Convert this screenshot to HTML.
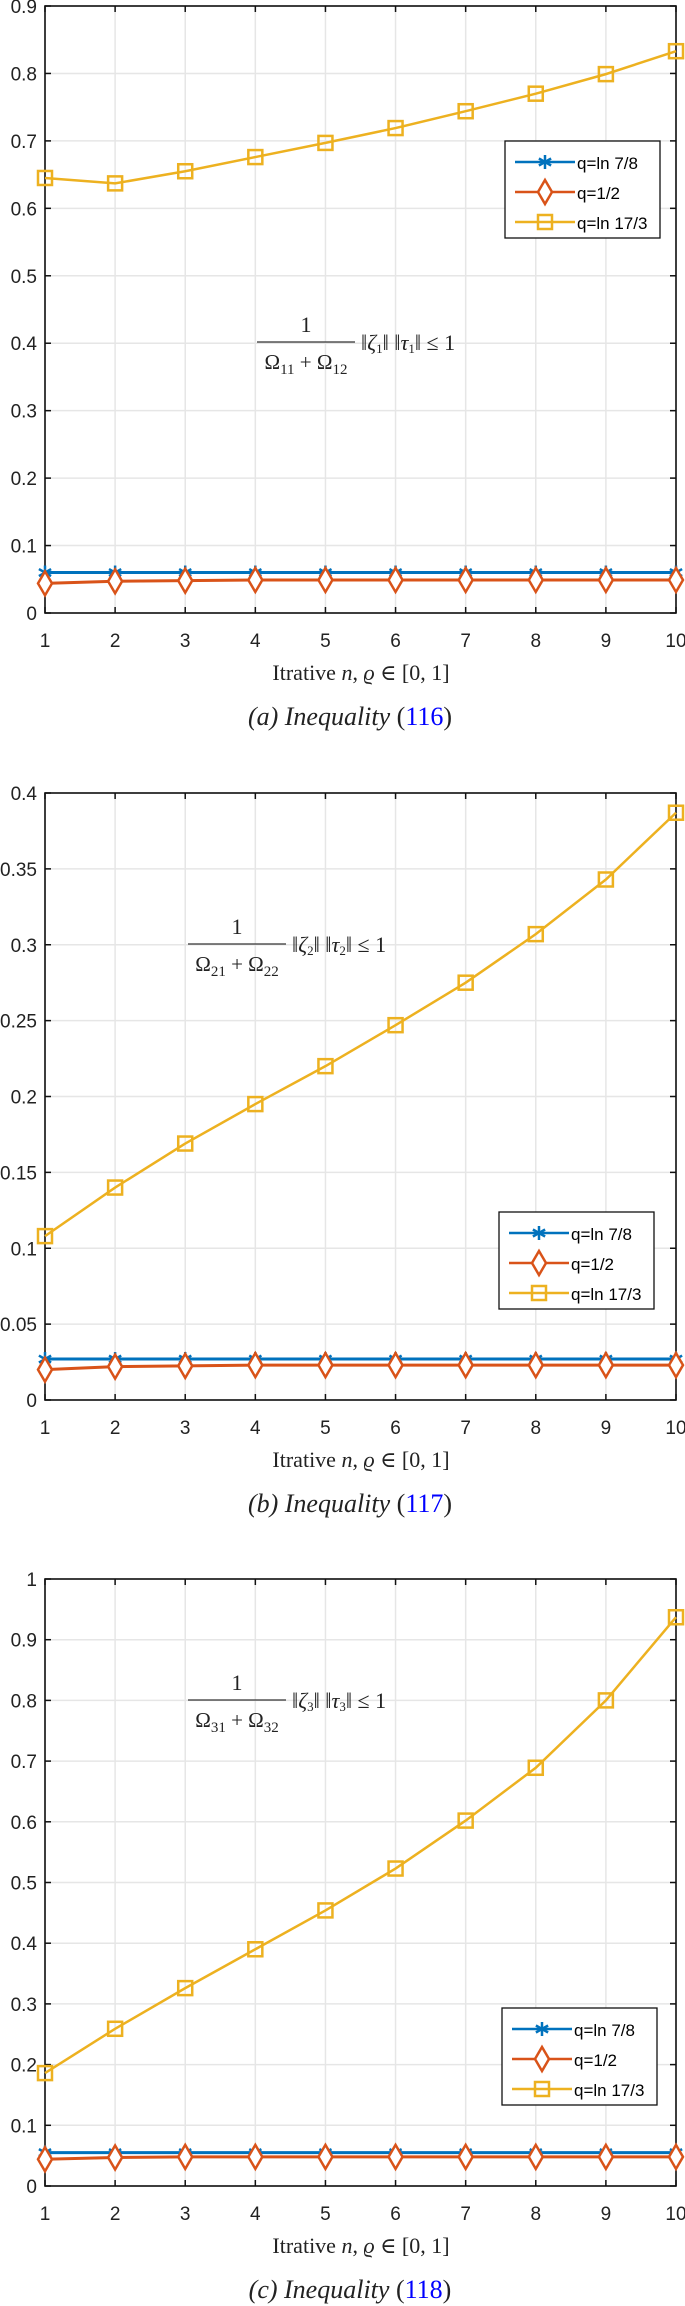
<!DOCTYPE html>
<html><head><meta charset="utf-8">
<style>
body{margin:0;background:#fff;width:685px;height:2306px;overflow:hidden}
svg{display:block}
.tick{font-family:"Liberation Sans",sans-serif;font-size:19px;fill:#222}
.math{font-family:"Liberation Serif","DejaVu Serif",serif;fill:#222}
.leg{font-family:"Liberation Sans",sans-serif;font-size:17px;fill:#000}
</style></head>
<body>
<svg id="fig" width="685" height="2306" xmlns="http://www.w3.org/2000/svg"></svg>
<script>
const categories = [1,2,3,4,5,6,7,8,9,10];
const seriesNames = ["q=ln 7/8","q=1/2","q=ln 17/3"];
// Panel (a)
const aBlue = [0.060,0.060,0.060,0.060,0.060,0.060,0.060,0.060,0.060,0.060];
const aOrange = [0.044,0.047,0.048,0.049,0.049,0.049,0.049,0.049,0.049,0.049];
const aYellow = [0.645,0.637,0.655,0.676,0.697,0.719,0.744,0.770,0.799,0.833];
const aTicks = ["0","0.1","0.2","0.3","0.4","0.5","0.6","0.7","0.8","0.9"];
// Panel (b)
const bBlue = [0.027,0.027,0.027,0.027,0.027,0.027,0.027,0.027,0.027,0.027];
const bOrange = [0.020,0.022,0.0225,0.023,0.023,0.023,0.023,0.023,0.023,0.023];
const bYellow = [0.108,0.140,0.169,0.195,0.220,0.247,0.275,0.307,0.343,0.387];
const bTicks = ["0","0.05","0.1","0.15","0.2","0.25","0.3","0.35","0.4"];
// Panel (c)
const cBlue = [0.055,0.055,0.055,0.055,0.055,0.055,0.055,0.055,0.055,0.055];
const cOrange = [0.044,0.047,0.048,0.048,0.048,0.048,0.048,0.048,0.048,0.048];
const cYellow = [0.186,0.259,0.326,0.390,0.454,0.523,0.602,0.689,0.800,0.937];
const cTicks = ["0","0.1","0.2","0.3","0.4","0.5","0.6","0.7","0.8","0.9","1"];

const NS="http://www.w3.org/2000/svg";
const fig=document.getElementById('fig');
const COLORS=["#0072BD","#D95319","#EDB120"];
function mk(tag,attrs,parent){const e=document.createElementNS(NS,tag);for(const k in attrs)e.setAttribute(k,attrs[k]);(parent||fig).appendChild(e);return e;}

function marker(g,kind,x,y,c){
  if(kind===0){
    const s=7;
    [[0,-s,0,s],[-s*0.87,-s*0.5,s*0.87,s*0.5],[-s*0.87,s*0.5,s*0.87,-s*0.5]].forEach(p=>{
      const l=mk('line',{x1:x+p[0],y1:y+p[1],x2:x+p[2],y2:y+p[3],stroke:c,'stroke-width':2.5},g);
      
    });
  }else if(kind===1){
    const p=mk('polygon',{points:`${x},${y-12} ${x+7},${y} ${x},${y+12} ${x-7},${y}`,fill:'#fff',stroke:c,'stroke-width':2.5},g);
    
  }else{
    const r=mk('rect',{x:x-7,y:y-7,width:14,height:14,fill:'none',stroke:c,'stroke-width':2.5},g);
    
  }
}

function panel(opt){
  const L=45,R=676,T=opt.top,B=opt.top+607;
  const ymax=opt.ymax;
  const xs=v=>L+(v-1)*(R-L)/9;
  const ys=v=>B-v/ymax*(B-T);
  const g=mk('g',{});
  
  categories.forEach(c=>{const l=mk('line',{x1:xs(c),y1:T,x2:xs(c),y2:B,stroke:'#e6e6e6','stroke-width':1.5},g);
    });
  opt.ticks.forEach(t=>{const v=parseFloat(t);const l=mk('line',{x1:L,y1:ys(v),x2:R,y2:ys(v),stroke:'#e6e6e6','stroke-width':1.5},g);
    });
  const box=mk('rect',{x:L,y:T,width:R-L,height:B-T,fill:'none',stroke:'#111','stroke-width':1.6},g);
  
  categories.forEach(c=>{
    mk('line',{x1:xs(c),y1:B,x2:xs(c),y2:B-6,stroke:'#111','stroke-width':1.5},g);
    mk('line',{x1:xs(c),y1:T,x2:xs(c),y2:T+6,stroke:'#111','stroke-width':1.5},g);
    const t=mk('text',{x:xs(c),y:B+34,'text-anchor':'middle',class:'tick'},g);t.textContent=c;
    
  });
  opt.ticks.forEach(tk=>{const v=parseFloat(tk);
    mk('line',{x1:L,y1:ys(v),x2:L+6,y2:ys(v),stroke:'#111','stroke-width':1.5},g);
    mk('line',{x1:R,y1:ys(v),x2:R-6,y2:ys(v),stroke:'#111','stroke-width':1.5},g);
    const t=mk('text',{x:37,y:ys(v)+7,'text-anchor':'end',class:'tick'},g);t.textContent=tk;
    
  });
  opt.series.forEach((arr,si)=>{
    const pts=arr.map((v,i)=>xs(categories[i])+','+ys(v)).join(' ');
    const pl=mk('polyline',{points:pts,fill:'none',stroke:COLORS[si],'stroke-width':si===2?2.5:3},g);
    
    arr.forEach((v,i)=>marker(g,si,xs(categories[i]),ys(v),COLORS[si]));
  });
  const ex=opt.eqX, ey=opt.eqY, sub=opt.sub;
  const eq=mk('g',{},g);
  let t=mk('text',{x:ex+49,y:ey-10,'text-anchor':'middle',class:'math','font-size':22},eq);t.textContent='1';
  mk('line',{x1:ex,y1:ey,x2:ex+98,y2:ey,stroke:'#333','stroke-width':1.3},eq);
  t=mk('text',{x:ex+49,y:ey+27,'text-anchor':'middle',class:'math','font-size':21},eq);
  t.innerHTML=`Ω<tspan font-size="15" dy="5">${sub}1</tspan><tspan dy="-5"> + Ω</tspan><tspan font-size="15" dy="5">${sub}2</tspan>`;
  t=mk('text',{x:ex+104,y:ey+8,class:'math','font-size':22},eq);
  t.innerHTML=`‖<tspan font-style="italic">ζ</tspan><tspan font-size="13" dy="3">${sub}</tspan><tspan dy="-3">‖ ‖</tspan><tspan font-style="italic">τ</tspan><tspan font-size="13" dy="3">${sub}</tspan><tspan dy="-3">‖ ≤ 1</tspan>`;
  const lg=mk('g',{},g);
  mk('rect',{x:opt.lx,y:opt.ly,width:155,height:97,fill:'#fff',stroke:'#111','stroke-width':1.3},lg);
  [21,51,81].forEach((dy,si)=>{
    const e=mk('g',{},lg);
    mk('line',{x1:opt.lx+10,y1:opt.ly+dy,x2:opt.lx+70,y2:opt.ly+dy,stroke:COLORS[si],'stroke-width':2.5},e);
    marker(e,si,opt.lx+40,opt.ly+dy,COLORS[si]);
    const tx=mk('text',{x:opt.lx+72,y:opt.ly+dy+7,class:'leg'},e);tx.textContent=seriesNames[si];
  });
  t=mk('text',{x:361,y:B+67,'text-anchor':'middle',class:'math','font-size':22},g);
  t.innerHTML='Itrative <tspan font-style="italic">n</tspan>, <tspan font-style="italic">ϱ</tspan> ∈ [0, 1]';
  
  t=mk('text',{x:350,y:B+112,'text-anchor':'middle',class:'math','font-size':26},g);
  t.innerHTML=`<tspan font-style="italic">(${opt.letter}) Inequality </tspan>(<tspan fill="#0000ff">${opt.eqn}</tspan>)`;
  
}
panel({name:'panel-a',top:6,ymax:0.9,ticks:aTicks,series:[aBlue,aOrange,aYellow],eqX:257,eqY:342,sub:'1',lx:505,ly:141,letter:'a',eqn:'116'});
panel({name:'panel-b',top:793,ymax:0.4,ticks:bTicks,series:[bBlue,bOrange,bYellow],eqX:188,eqY:944,sub:'2',lx:499,ly:1212,letter:'b',eqn:'117'});
panel({name:'panel-c',top:1579,ymax:1,ticks:cTicks,series:[cBlue,cOrange,cYellow],eqX:188,eqY:1700,sub:'3',lx:502,ly:2008,letter:'c',eqn:'118'});
</script>
</body></html>
